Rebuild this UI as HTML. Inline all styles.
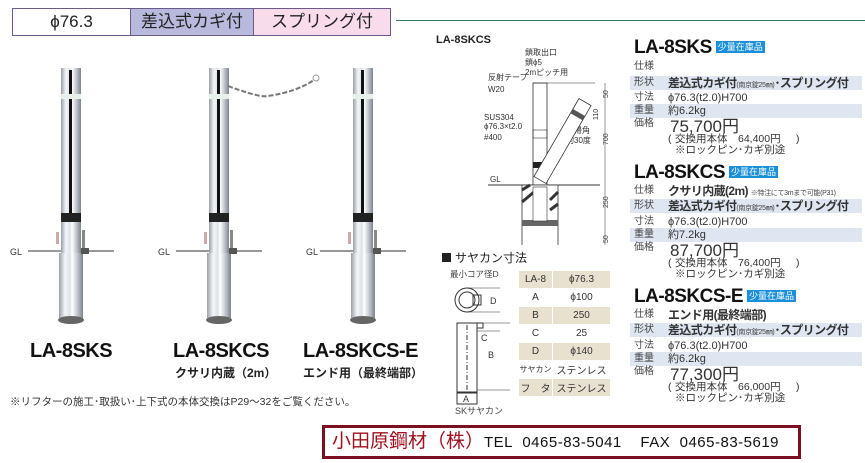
<!DOCTYPE html>
<html><head><meta charset="utf-8"><style>
*{margin:0;padding:0;box-sizing:border-box}
body{width:865px;height:463px;background:#fff;position:relative;overflow:hidden;font-family:"Liberation Sans","Noto Sans CJK JP",sans-serif;color:#222}
.a{position:absolute;white-space:nowrap}
.hd{position:absolute;top:8px;height:28px;border:1px solid #6a5a8a;font-size:17px;line-height:26px;text-align:center}
.t{font-weight:bold;font-size:19px;color:#111;letter-spacing:-0.5px}
.badge{display:inline-block;background:#1b8fd8;color:#fff;font-size:9px;font-weight:normal;line-height:12px;padding:0 2px;vertical-align:3px;margin-left:4px;letter-spacing:0}
.row{position:absolute;left:630px;width:232px;height:14px;font-size:11px;line-height:14px;white-space:nowrap}
.row.s{background:#dfe6f1}
.row .k{position:absolute;left:4px;color:#444;font-size:10px}
.row .v{position:absolute;left:38px;color:#333;white-space:nowrap}
.b{font-weight:bold;font-size:12px;color:#111;letter-spacing:-0.6px}
.sm{font-size:7px;color:#444;font-weight:normal;letter-spacing:-0.3px}
.pr{position:absolute;left:670px;font-size:17px;color:#333;line-height:17px}
.pn{position:absolute;left:668px;font-size:10.5px;color:#333;line-height:11px;white-space:nowrap}
.mt{position:absolute;left:518px;top:270px;border-collapse:collapse;font-size:10px;color:#333}
.mt td{border:1px solid #fff;height:18px;text-align:center;padding:0;white-space:nowrap}
</style></head><body>

<div class="hd" style="left:12px;width:119px;background:#fff">ϕ76.3</div>
<div class="hd" style="left:130px;width:124px;background:#b9b9de">差込式カギ付</div>
<div class="hd" style="left:253px;width:138px;background:#f9dcec">スプリング付</div>
<div class="a" style="left:396px;top:20px;width:469px;height:1px;background:#2c7a5a"></div>

<svg class="a" style="left:0;top:0" width="430" height="340">
<defs>
<linearGradient id="pg" x1="0" x2="1"><stop offset="0" stop-color="#9aa0a8"/><stop offset=".25" stop-color="#f4f6f8"/><stop offset=".45" stop-color="#dde2e8"/><stop offset=".55" stop-color="#fff"/><stop offset=".8" stop-color="#b9bec6"/><stop offset="1" stop-color="#7d848c"/></linearGradient>
</defs>
<g id="p1">
<line x1="28" y1="251" x2="114" y2="251" stroke="#333" stroke-width="1"/>
<rect x="61" y="68" width="20" height="185" fill="url(#pg)"/>
<rect x="69" y="70" width="3" height="150" fill="#111"/>
<rect x="61" y="94" width="20" height="5" fill="#e8f0ec"/>
<rect x="61" y="213" width="20" height="9" fill="#222"/>
<rect x="59" y="253" width="24" height="67" fill="url(#pg)"/>
<ellipse cx="71" cy="320" rx="13" ry="4" fill="#666"/>
<rect x="56" y="232" width="3" height="12" fill="#caa"/>
<rect x="82" y="230" width="3" height="22" fill="#888"/>
<rect x="81" y="248" width="8" height="6" fill="#555"/>
</g>
<use href="#p1" x="148"/>
<use href="#p1" x="292"/>
<path d="M228 86 Q260 98 268 96 Q296 92 314 80" fill="none" stroke="#777" stroke-width="2" stroke-dasharray="5 2"/>
<circle cx="316" cy="78" r="3" fill="none" stroke="#999"/>
<text x="10" y="255" font-size="9" fill="#333">GL</text>
<text x="158" y="255" font-size="9" fill="#333">GL</text>
<text x="306" y="255" font-size="9" fill="#333">GL</text>
</svg>

<div class="a t" style="left:30px;top:340px;font-size:20px">LA-8SKS</div>
<div class="a t" style="left:173px;top:340px;font-size:20px">LA-8SKCS</div>
<div class="a t" style="left:303px;top:340px;font-size:20px">LA-8SKCS-E</div>
<div class="a" style="left:175px;top:364px;font-size:12px;font-weight:bold;color:#222">クサリ内蔵（2m）</div>
<div class="a" style="left:303px;top:364px;font-size:12px;font-weight:bold;color:#222">エンド用（最終端部）</div>
<div class="a" style="left:10px;top:394px;font-size:10.5px;color:#333">※リフターの施工･取扱い･上下式の本体交換はP29～32をご覧ください。</div>

<div class="a" style="left:436px;top:34px;font-size:11px;font-weight:bold">LA-8SKCS</div>
<svg class="a" style="left:430px;top:30px" width="190" height="215" font-size="8" fill="#333">
<text x="95" y="25">鎖取出口</text><text x="95" y="35">鎖ϕ5</text><text x="95" y="45">2mピッチ用</text>
<text x="58" y="50">反射テープ</text><text x="58" y="62">W20</text>
<text x="54" y="90">SUS304</text><text x="54" y="99">ϕ76.3×t2.0</text><text x="54" y="110">#400</text>
<text x="136" y="103">復帰角</text><text x="136" y="113">約30度</text>
<text x="60" y="152">GL</text><text x="126" y="232">□250</text>
<line x1="58" y1="155" x2="170" y2="155" stroke="#333"/>
<rect x="103" y="53" width="14" height="102" fill="#fff" stroke="#333" stroke-width=".8"/>
<rect x="103" y="100" width="14" height="8" fill="none" stroke="#333" stroke-width=".6"/>
<rect x="103" y="132" width="14" height="6" fill="#222"/>
<line x1="103" y1="53" x2="165" y2="53" stroke="#333" stroke-width=".6"/>
<g transform="rotate(30 110 150)"><rect x="103" y="60" width="14" height="90" fill="#fff" stroke="#333" stroke-width=".8"/><rect x="103" y="72" width="14" height="5" fill="#555"/></g>
<rect x="92" y="155" width="36" height="62" fill="#fff" stroke="#333" stroke-width=".8"/>
<path d="M92 160 l8 -5 M92 172 l12 -10 M120 170 l8 -8 M120 180 l8 -6" stroke="#333" stroke-width="3"/>
<rect x="92" y="190" width="36" height="6" fill="#666"/>
<rect x="103" y="157" width="14" height="34" fill="#fff" stroke="#333" stroke-width=".6"/>
<line x1="175" y1="53" x2="175" y2="225" stroke="#333" stroke-width=".5"/>
<text x="178" y="68" transform="rotate(-90 178 68)" font-size="7">50</text>
<text x="168" y="90" transform="rotate(-90 168 90)" font-size="7">110</text>
<text x="178" y="115" transform="rotate(-90 178 115)" font-size="7">700</text>
<text x="178" y="178" transform="rotate(-90 178 178)" font-size="7">250</text>
<text x="178" y="213" transform="rotate(-90 178 213)" font-size="7">50</text>
</svg>

<div class="a" style="left:442px;top:249px;font-size:12px;color:#222"><span style="display:inline-block;width:9px;height:9px;background:#222;margin-right:4px"></span>サヤカン寸法</div>
<div class="a" style="left:450px;top:268px;font-size:8.5px;color:#444">最小コア径D</div>
<svg class="a" style="left:440px;top:278px" width="75" height="130" font-size="9" fill="#333">
<circle cx="27" cy="22" r="12" fill="none" stroke="#333"/><circle cx="27" cy="22" r="8" fill="none" stroke="#333"/>
<rect x="33" y="17" width="8" height="10" fill="none" stroke="#333"/>
<line x1="27" y1="10" x2="60" y2="10" stroke="#333" stroke-width=".6"/><line x1="27" y1="34" x2="60" y2="34" stroke="#333" stroke-width=".6"/>
<text x="50" y="26">D</text>
<rect x="17" y="45" width="20" height="70" fill="none" stroke="#333"/>
<line x1="27" y1="47" x2="27" y2="113" stroke="#333" stroke-dasharray="5 2 1 2"/>
<rect x="37" y="45" width="6" height="5" fill="none" stroke="#333"/>
<line x1="17" y1="45" x2="70" y2="45" stroke="#333" stroke-width=".6"/><line x1="37" y1="53" x2="60" y2="53" stroke="#333" stroke-width=".6"/>
<line x1="37" y1="112" x2="70" y2="112" stroke="#333" stroke-width=".6"/>
<text x="41" y="63">C</text><text x="48" y="80">B</text>
<rect x="17" y="114" width="20" height="12" fill="none" stroke="#333"/><text x="23" y="124">A</text>
</svg>
<div class="a" style="left:455px;top:404px;font-size:9px;color:#444">SKサヤカン</div>
<table class="mt">
<tr style="background:#e9e1cf"><td style="width:34px">LA-8</td><td style="width:58px">ϕ76.3</td></tr>
<tr><td>A</td><td>ϕ100</td></tr>
<tr style="background:#e9e1cf"><td>B</td><td>250</td></tr>
<tr><td>C</td><td>25</td></tr>
<tr style="background:#e9e1cf"><td>D</td><td>ϕ140</td></tr>
<tr><td style="font-size:8px">サヤカン</td><td>ステンレス</td></tr>
<tr style="background:#e9e1cf"><td>フ　タ</td><td>ステンレス</td></tr>
</table>

<!-- product 1 -->
<div class="a t" style="left:634px;top:37px">LA-8SKS<span class="badge">少量在庫品</span></div>
<div class="row" style="top:60px"><span class="k">仕様</span></div>
<div class="row s" style="top:76px"><span class="k">形状</span><span class="v b">差込式カギ付<span class="sm">(南京錠25㎜)</span>･スプリング付</span></div>
<div class="row" style="top:91px"><span class="k">寸法</span><span class="v">ϕ76.3(t2.0)H700</span></div>
<div class="row s" style="top:104px"><span class="k">重量</span><span class="v">約6.2kg</span></div>
<div class="row" style="top:117px"><span class="k">価格</span></div>
<div class="pr" style="top:118px">75,700円</div>
<div class="pn" style="top:134px">(</div><div class="pn" style="left:675px;top:134px">交換用本体　64,400円</div>
<div class="pn" style="left:675px;top:145px">※ロックピン･カギ別途</div>
<div class="pn" style="left:796px;top:134px">)</div>

<!-- product 2 -->
<div class="a t" style="left:634px;top:162px">LA-8SKCS<span class="badge">少量在庫品</span></div>
<div class="row" style="top:184px"><span class="k">仕様</span><span class="v b">クサリ内蔵(2m) <span class="sm">※特注にて3mまで可能(P31)</span></span></div>
<div class="row s" style="top:199px"><span class="k">形状</span><span class="v b">差込式カギ付<span class="sm">(南京錠25㎜)</span>･スプリング付</span></div>
<div class="row" style="top:215px"><span class="k">寸法</span><span class="v">ϕ76.3(t2.0)H700</span></div>
<div class="row s" style="top:228px"><span class="k">重量</span><span class="v">約7.2kg</span></div>
<div class="row" style="top:241px"><span class="k">価格</span></div>
<div class="pr" style="top:242px">87,700円</div>
<div class="pn" style="top:258px">(</div><div class="pn" style="left:675px;top:258px">交換用本体　76,400円</div>
<div class="pn" style="left:675px;top:269px">※ロックピン･カギ別途</div>
<div class="pn" style="left:796px;top:258px">)</div>

<!-- product 3 -->
<div class="a t" style="left:634px;top:286px">LA-8SKCS-E<span class="badge">少量在庫品</span></div>
<div class="row" style="top:308px"><span class="k">仕様</span><span class="v b">エンド用(最終端部)</span></div>
<div class="row s" style="top:323px"><span class="k">形状</span><span class="v b">差込式カギ付<span class="sm">(南京錠25㎜)</span>･スプリング付</span></div>
<div class="row" style="top:339px"><span class="k">寸法</span><span class="v">ϕ76.3(t2.0)H700</span></div>
<div class="row s" style="top:352px"><span class="k">重量</span><span class="v">約6.2kg</span></div>
<div class="row" style="top:365px"><span class="k">価格</span></div>
<div class="pr" style="top:366px">77,300円</div>
<div class="pn" style="top:382px">(</div><div class="pn" style="left:675px;top:382px">交換用本体　66,000円</div>
<div class="pn" style="left:675px;top:393px">※ロックピン･カギ別途</div>
<div class="pn" style="left:796px;top:382px">)</div>

<div class="a" style="left:322px;top:425px;width:479px;height:34px;border:3px solid #7a1020"></div>
<div class="a" style="left:332px;top:429px;font-size:19px;color:#a01020;line-height:26px">小田原鋼材（株）</div>
<div class="a" style="left:484px;top:432px;font-size:15px;color:#111;line-height:22px;letter-spacing:0.5px">TEL&nbsp; 0465-83-5041&nbsp;&nbsp;&nbsp; FAX&nbsp; 0465-83-5619</div>
</body></html>
